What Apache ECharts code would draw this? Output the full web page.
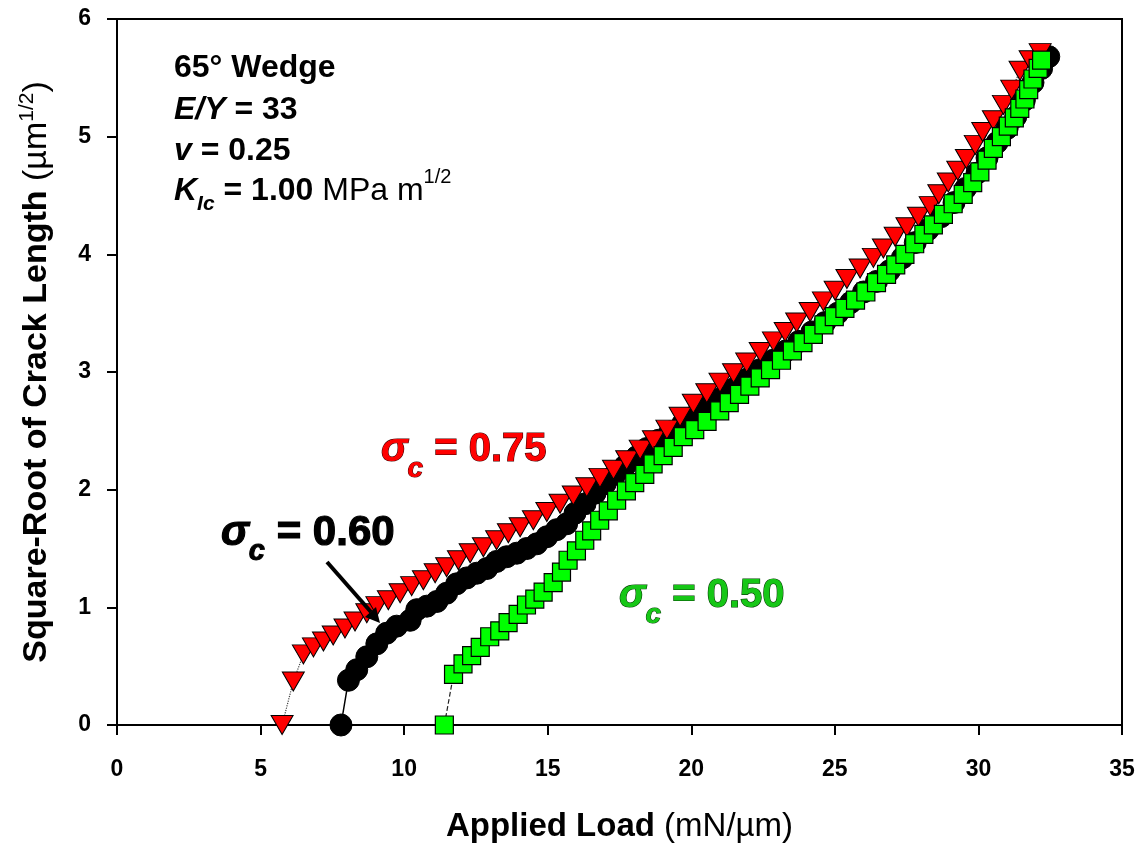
<!DOCTYPE html>
<html>
<head>
<meta charset="utf-8">
<script src="https://cdn.jsdelivr.net/npm/echarts@6/dist/echarts.min.js"></script>
<style>
  html, body { margin: 0; padding: 0; background: #fff; }
  #main { width: 1143px; height: 851px; }
</style>
</head>
<body>
<div id="main"></div>
<script>
  // tick labels
  var xTicks = [0, 5, 10, 15, 20, 25, 30, 35];
  var yTicks = [0, 1, 2, 3, 4, 5, 6];

  // sigma_c = 0.75  (red triangles) [load, sqrt crack length]
  var sigma075 = [
    [5.75, 0], [6.14, 0.37], [6.49, 0.60], [6.84, 0.66], [7.19, 0.71], [7.53, 0.76],
    [7.94, 0.82], [8.29, 0.88], [8.70, 0.95], [9.05, 1.01], [9.45, 1.06], [9.86, 1.12],
    [10.26, 1.18], [10.67, 1.23], [11.08, 1.29], [11.48, 1.34], [11.89, 1.40], [12.30, 1.46],
    [12.76, 1.51], [13.22, 1.57], [13.63, 1.63], [14.04, 1.68], [14.50, 1.74], [14.97, 1.81],
    [15.43, 1.88], [15.89, 1.95], [16.36, 2.02], [16.82, 2.10], [17.29, 2.17], [17.75, 2.25],
    [18.22, 2.34], [18.68, 2.42], [19.15, 2.51], [19.61, 2.62], [20.07, 2.73], [20.54, 2.82],
    [21.00, 2.91], [21.47, 2.99], [21.93, 3.08], [22.40, 3.17], [22.86, 3.26], [23.27, 3.34],
    [23.67, 3.42], [24.14, 3.51], [24.60, 3.60], [25.01, 3.69], [25.42, 3.79], [25.88, 3.88],
    [26.34, 3.97], [26.69, 4.05], [27.10, 4.15], [27.51, 4.23], [27.91, 4.32], [28.32, 4.41],
    [28.62, 4.51], [28.95, 4.61], [29.28, 4.71], [29.58, 4.81], [29.89, 4.93], [30.15, 5.04],
    [30.52, 5.14], [30.87, 5.27], [31.16, 5.40], [31.45, 5.56], [31.80, 5.65], [32.15, 5.71]
  ];

  // sigma_c = 0.60  (black circles)
  var sigma060 = [
    [7.80, 0], [8.06, 0.38], [8.35, 0.47], [8.70, 0.58], [9.05, 0.69], [9.39, 0.78],
    [9.74, 0.84], [10.21, 0.89], [10.44, 0.98], [10.79, 1.01], [11.14, 1.05], [11.48, 1.12],
    [11.83, 1.20], [12.18, 1.25], [12.53, 1.29], [12.88, 1.33], [13.22, 1.39], [13.57, 1.43],
    [13.92, 1.46], [14.27, 1.50], [14.62, 1.54], [14.97, 1.60], [15.31, 1.66], [15.66, 1.71],
    [15.95, 1.80], [16.30, 1.88], [16.65, 1.97], [17.00, 2.05], [17.35, 2.13], [17.69, 2.20],
    [18.10, 2.28], [18.45, 2.35], [18.86, 2.42], [19.26, 2.49], [19.70, 2.56], [20.15, 2.63],
    [20.60, 2.70], [21.05, 2.78], [21.50, 2.86], [21.95, 2.94], [22.40, 3.02], [22.85, 3.10],
    [23.30, 3.18], [23.75, 3.26], [24.20, 3.34], [24.65, 3.42], [25.10, 3.50], [25.55, 3.59],
    [26.00, 3.68], [26.45, 3.77], [26.90, 3.86], [27.35, 3.97], [27.80, 4.10], [28.25, 4.21],
    [28.70, 4.32], [29.15, 4.44], [29.55, 4.56], [29.95, 4.69], [30.30, 4.82], [30.65, 4.95],
    [31.00, 5.07], [31.30, 5.17], [31.60, 5.31], [31.90, 5.46], [32.20, 5.58], [32.45, 5.68]
  ];

  // sigma_c = 0.50  (green squares)
  var sigma050 = [
    [11.40, 0], [11.72, 0.43], [12.05, 0.52], [12.35, 0.59], [12.65, 0.66], [12.98, 0.75],
    [13.33, 0.80], [13.62, 0.87], [13.97, 0.94], [14.26, 1.02], [14.55, 1.07], [14.84, 1.13],
    [15.19, 1.21], [15.48, 1.30], [15.71, 1.40], [16.00, 1.48], [16.29, 1.57], [16.53, 1.65],
    [16.81, 1.74], [17.11, 1.82], [17.40, 1.91], [17.74, 1.99], [18.03, 2.06], [18.38, 2.13],
    [18.67, 2.22], [19.02, 2.29], [19.37, 2.36], [19.72, 2.45], [20.12, 2.51], [20.55, 2.58],
    [20.99, 2.67], [21.32, 2.74], [21.68, 2.81], [22.04, 2.88], [22.40, 2.95], [22.76, 3.02],
    [23.14, 3.10], [23.52, 3.18], [23.89, 3.25], [24.25, 3.32], [24.62, 3.40], [24.98, 3.47],
    [25.35, 3.54], [25.72, 3.61], [26.08, 3.68], [26.45, 3.76], [26.80, 3.83], [27.12, 3.91],
    [27.44, 4.00], [27.78, 4.09], [28.10, 4.17], [28.43, 4.25], [28.78, 4.34], [29.12, 4.43],
    [29.47, 4.51], [29.80, 4.61], [30.05, 4.70], [30.30, 4.80], [30.52, 4.90], [30.80, 5.00],
    [31.04, 5.09], [31.25, 5.16], [31.44, 5.24], [31.62, 5.32], [31.75, 5.40], [31.90, 5.49],
    [32.08, 5.58], [32.20, 5.65]
  ];

  var FONT = '"Liberation Sans", Arial, Helvetica, sans-serif';

  // rich styles for the sigma labels
  function sigmaRich(fill, stroke, size) {
    return {
      s: { fontFamily: FONT, fontSize: size, fontWeight: 'bold', fontStyle: 'italic', fill: fill, stroke: stroke, lineWidth: 1.2, lineHeight: 66 },
      c: { fontFamily: FONT, fontSize: Math.round(size * 0.7), fontWeight: 'bold', fontStyle: 'italic', fill: fill, stroke: stroke, lineWidth: 1, lineHeight: 28, verticalAlign: 'bottom' },
      b: { fontFamily: FONT, fontSize: size, fontWeight: 'bold', fill: fill, stroke: stroke, lineWidth: 1.2, lineHeight: 66 }
    };
  }

  var infoRich = {
    b: { fontFamily: FONT, fontSize: 32, fontWeight: 'bold', fill: '#000', lineHeight: 48 },
    i: { fontFamily: FONT, fontSize: 32, fontWeight: 'bold', fontStyle: 'italic', fill: '#000', lineHeight: 48 },
    sub: { fontFamily: FONT, fontSize: 21, fontWeight: 'bold', fontStyle: 'italic', fill: '#000', lineHeight: 22, verticalAlign: 'bottom' },
    n: { fontFamily: FONT, fontSize: 32, fill: '#000', lineHeight: 48 },
    sup: { fontFamily: FONT, fontSize: 20, fill: '#000', lineHeight: 26, verticalAlign: 'top' }
  };

  var myChart = echarts.init(document.getElementById('main'));

  var option = {
    backgroundColor: '#fff',
    animation: false,
    grid: {
      left: 117, right: 21, top: 19, bottom: 126,
      show: true, borderColor: '#000', borderWidth: 2
    },
    xAxis: {
      type: 'value',
      min: 0, max: 35, interval: 5,
      name: '{b|Applied Load }{n|(mN/µm)}',
      nameLocation: 'middle',
      nameGap: 82,
      nameTextStyle: {
        rich: {
          b: { fontFamily: FONT, fontSize: 33, fontWeight: 'bold', color: '#000', lineHeight: 40 },
          n: { fontFamily: FONT, fontSize: 33, color: '#000', lineHeight: 40 }
        }
      },
      axisLine: { onZero: false, lineStyle: { color: '#000', width: 2 } },
      axisTick: { inside: false, length: 10, lineStyle: { color: '#000', width: 2 } },
      axisLabel: {
        margin: 33, color: '#000', fontFamily: FONT, fontSize: 23, fontWeight: 'bold',
        formatter: function (v) { return xTicks.indexOf(v) >= 0 ? String(v) : ''; }
      },
      splitLine: { show: false }
    },
    yAxis: {
      type: 'value',
      min: 0, max: 6, interval: 1,
      name: '{b|Square-Root of Crack Length }{n|(µm}{s|1/2}{n|)}',
      nameLocation: 'middle',
      nameGap: 60,
      nameRotate: 90,
      nameTextStyle: {
        rich: {
          b: { fontFamily: FONT, fontSize: 34, fontWeight: 'bold', color: '#000', lineHeight: 40 },
          n: { fontFamily: FONT, fontSize: 34, color: '#000', lineHeight: 40 },
          s: { fontFamily: FONT, fontSize: 21, color: '#000', lineHeight: 22, verticalAlign: 'top' }
        }
      },
      axisLine: { onZero: false, lineStyle: { color: '#000', width: 2 } },
      axisTick: { inside: false, length: 10, lineStyle: { color: '#000', width: 2 } },
      axisLabel: {
        margin: 26, color: '#000', fontFamily: FONT, fontSize: 23, fontWeight: 'bold',
        formatter: function (v) { return yTicks.indexOf(v) >= 0 ? String(v) : ''; }
      },
      splitLine: { show: false }
    },
    series: [
      {
        // drawn first so the red and green marks sit over it
        name: 'σc = 0.60',
        type: 'line',
        z: 2,
        data: sigma060,
        symbol: 'circle',
        symbolSize: 22,
        lineStyle: { color: '#000', width: 1.5, type: 'solid' },
        itemStyle: { color: '#000', borderColor: '#000', borderWidth: 1 }
      },
      {
        name: 'σc = 0.75',
        type: 'line',
        z: 3,
        data: sigma075,
        symbol: 'triangle',
        symbolRotate: 180,
        symbolSize: [22, 19],
        lineStyle: { color: '#444', width: 1.2, type: 'dotted' },
        itemStyle: { color: '#ff0000', borderColor: '#000', borderWidth: 1 }
      },
      {
        name: 'σc = 0.50',
        type: 'line',
        z: 4,
        data: sigma050,
        symbol: 'rect',
        symbolSize: 18,
        lineStyle: { color: '#222', width: 1.2, type: 'dashed' },
        itemStyle: { color: '#00ff00', borderColor: '#000', borderWidth: 1.2 }
      }
    ],
    graphic: [
      { type: 'text', x: 174, y: 68, z: 100, style: { text: '{b|65° Wedge}', rich: infoRich, verticalAlign: 'middle' } },
      { type: 'text', x: 174, y: 110, z: 100, style: { text: '{i|E/Y}{b| = 33}', rich: infoRich, verticalAlign: 'middle' } },
      { type: 'text', x: 174, y: 151, z: 100, style: { text: '{i|v}{b| = 0.25}', rich: infoRich, verticalAlign: 'middle' } },
      { type: 'text', x: 174, y: 191, z: 100, style: { text: '{i|K}{sub|Ic}{b| = 1.00}{n| MPa m}{sup|1/2}', rich: infoRich, verticalAlign: 'middle' } },

      { type: 'text', x: 381, y: 450, z: 100, style: { text: '{s|σ}{c|c}{b| = 0.75}', rich: sigmaRich('#ff0000', '#400000', 40), verticalAlign: 'middle' } },
      { type: 'text', x: 221, y: 533, z: 100, style: { text: '{s|σ}{c|c}{b| = 0.60}', rich: sigmaRich('#000', '#000', 42), verticalAlign: 'middle' } },
      { type: 'text', x: 619, y: 596, z: 100, style: { text: '{s|σ}{c|c}{b| = 0.50}', rich: sigmaRich('#16c716', '#064006', 40), verticalAlign: 'middle' } },

      // arrow pointing at the 0.60 curve
      { type: 'line', z: 100, shape: { x1: 327, y1: 562, x2: 371, y2: 612 }, style: { stroke: '#000', lineWidth: 4 } },
      { type: 'polygon', z: 100, shape: { points: [[380, 623], [365, 617], [376, 607]] }, style: { fill: '#000' } }
    ]
  };

  myChart.setOption(option);
</script>
</body>
</html>
